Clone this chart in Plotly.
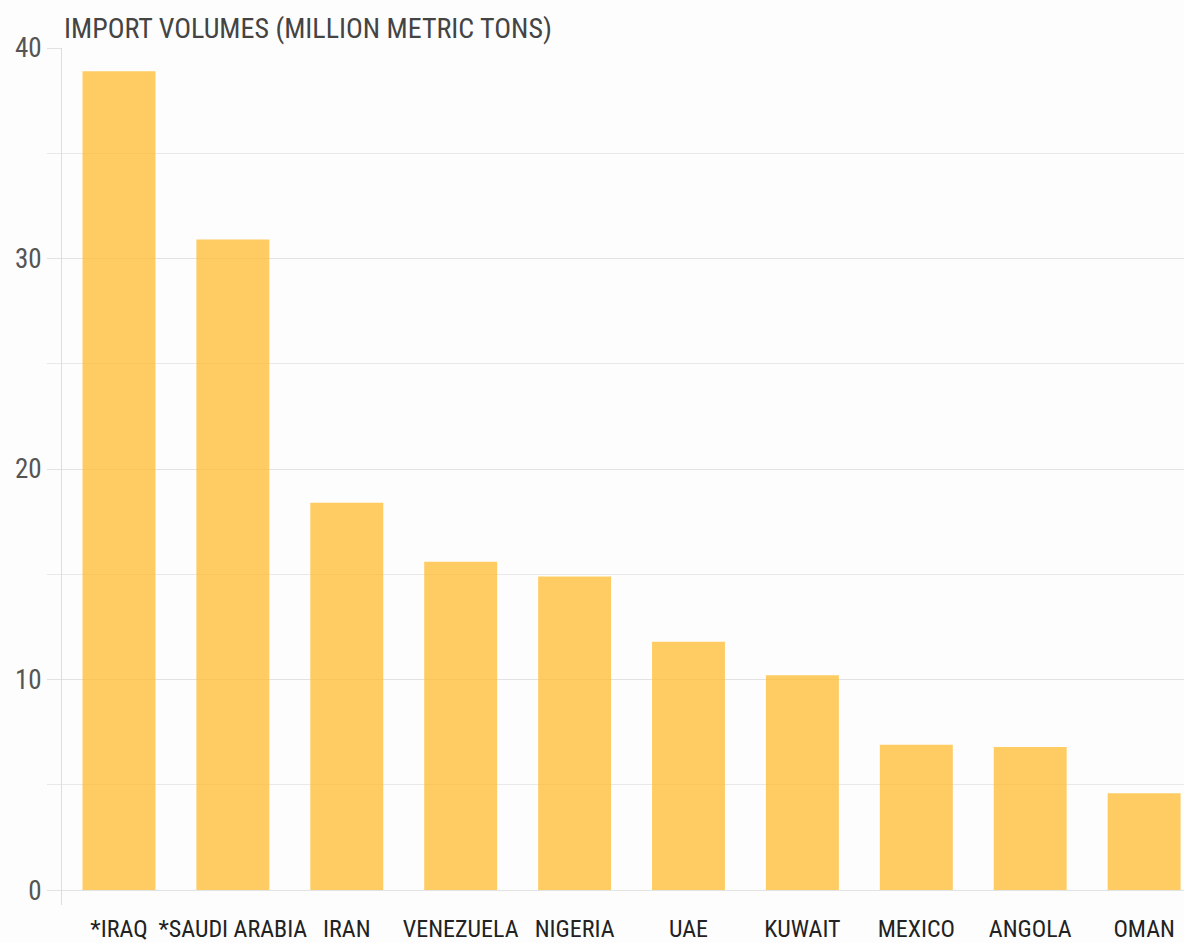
import plotly.graph_objects as go

countries = ["*IRAQ", "*SAUDI ARABIA", "IRAN", "VENEZUELA", "NIGERIA",
             "UAE", "KUWAIT", "MEXICO", "ANGOLA", "OMAN"]
volumes = [38.9, 30.9, 18.4, 15.6, 14.9, 11.8, 10.2, 6.9, 6.8, 4.6]
ytick_vals = [0, 10, 20, 30, 40]
title_text = "IMPORT VOLUMES (MILLION METRIC TONS)"

FONT = "Liberation Sans Narrow, Roboto Condensed, Roboto, sans-serif"

fig = go.Figure(go.Bar(
    x=countries, y=volumes,
    marker=dict(color="rgba(255,190,55,0.78)", line=dict(width=0)),
    width=0.64,
))

fig.update_layout(
    width=1184, height=943,
    margin=dict(l=62, r=0, t=48, b=38),
    paper_bgcolor="#fdfdfd", plot_bgcolor="#fdfdfd",
    showlegend=False,
    font=dict(family=FONT),
    xaxis=dict(
        range=[-0.5, 9.35],
        showgrid=False, zeroline=False, showline=False,
        ticks="outside", ticklen=2, tickcolor="rgba(0,0,0,0)",
        tickfont=dict(family=FONT, size=24, color="#222222"),
        automargin=False,
        fixedrange=True,
    ),
    yaxis=dict(
        range=[-0.71, 40],
        tickvals=ytick_vals,
        showgrid=True, gridcolor="#e2e2e2", gridwidth=1,
        zeroline=True, zerolinecolor="#e2e2e2", zerolinewidth=1,
        showline=True, linecolor="#dddddd", linewidth=1,
        ticks="outside", ticklen=14, tickcolor="#e2e2e2",
        minor=dict(dtick=5, tick0=0, showgrid=True, gridcolor="#e9e9e9",
                   ticks="outside", ticklen=14, tickcolor="#e9e9e9"),
        tickfont=dict(family=FONT, size=27, color="#555555"),
        automargin=False,
        fixedrange=True,
    ),
    annotations=[dict(
        text=title_text, xref="paper", yref="paper", x=0, y=1,
        xanchor="left", yanchor="bottom", yshift=1, showarrow=False,
        font=dict(family=FONT, size=28, color="#444444"),
    )],
)

fig.write_html("out.html")
